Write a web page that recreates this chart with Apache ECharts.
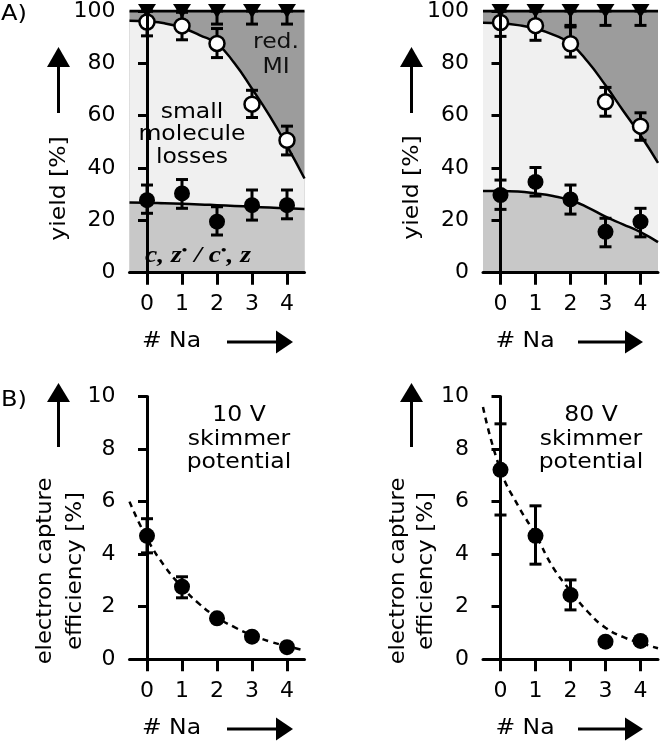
<!DOCTYPE html>
<html><head><meta charset="utf-8">
<script src="https://cdn.jsdelivr.net/npm/echarts@6/dist/echarts.min.js"></script>
<style>html,body{margin:0;padding:0;background:#fff}#c{width:661px;height:743px}</style>
</head><body><div id="c"></div>
<script>
// ---------- data ----------
const naCounts = [0, 1, 2, 3, 4];
const fitX = [-0.5, 0, 0.5, 1, 1.5, 2, 2.5, 3, 3.5, 4, 4.5];

// Panel A, left (10 V)
const aL_tri = [100, 100, 100, 100, 100];
const aL_triLow = [95, 95, 95, 95, 95];
const aL_open = [95.8, 94.3, 87.6, 64.4, 50.6];
const aL_openLow = [90.5, 89.0, 82.2, 59.3, 45.0];
const aL_openHigh = [100, 99.5, 93.3, 69.7, 56.0];
const aL_fill = [27.7, 30.3, 19.5, 25.8, 25.8];
const aL_fillLow = [22.7, 24.6, 14.4, 20.1, 20.6];
const aL_fillHigh = [33.5, 35.6, 25.2, 31.6, 31.6];
const aL_upperFit = [96.3, 96.0, 95.3, 93.6, 90.8, 87.5, 80.0, 70.3, 60.0, 48.5, 36.0];
const aL_lowerFit = [26.8, 26.7, 26.5, 26.3, 26.1, 25.8, 25.5, 25.2, 24.9, 24.6, 24.3];

// Panel A, right (80 V)
const aR_tri = [100, 100, 100, 100, 100];
const aR_triLow = [94.5, 94.5, 94.5, 94.5, 94.5];
const aR_open = [95.6, 94.4, 87.5, 65.3, 56.0];
const aR_openLow = [90.3, 88.8, 82.4, 59.8, 50.6];
const aR_openHigh = [100, 100, 93.9, 70.8, 61.1];
const aR_fill = [29.7, 34.7, 28.0, 15.6, 19.5];
const aR_fillLow = [24.2, 29.3, 22.4, 9.9, 13.7];
const aR_fillHigh = [35.4, 40.2, 33.5, 20.8, 24.6];
const aR_upperFit = [95.5, 95.3, 94.6, 93.3, 91.0, 87.5, 80.5, 71.6, 62.0, 52.5, 42.0];
const aR_lowerFit = [31.2, 31.2, 31.0, 30.3, 29.3, 27.7, 24.9, 21.4, 18.5, 15.5, 11.7];

// Panel B (electron capture efficiency)
const bL_eff = [4.70, 2.76, 1.56, 0.86, 0.46];
const bL_errLow = [4.05, 2.34, null, null, null];
const bL_errHigh = [5.35, 3.14, null, null, null];
const bL_fit = [6.0, 4.6, 3.55, 2.75, 2.1, 1.6, 1.22, 0.92, 0.68, 0.5, 0.34];

const bR_eff = [7.21, 4.70, 2.45, 0.67, 0.70];
const bR_errLow = [5.49, 3.62, 1.88, null, null];
const bR_errHigh = [8.96, 5.84, 3.02, null, null];
const bR_fit = [9.6, 7.2, 5.85, 4.75, 3.5, 2.6, 1.8, 1.2, 0.85, 0.62, 0.42];

const yTicksA = [0, 20, 40, 60, 80, 100];
const yTicksB = [0, 2, 4, 6, 8, 10];

// ---------- helpers ----------
const FONT = '"DejaVu Sans", sans-serif';
const zip = (xs, ys) => xs.map((x, i) => [x, ys[i]]);
const errData = (lo, hi) => naCounts.map((x, i) => [x, lo[i], hi[i]]).filter(d => d[1] != null);

function errRender(params, api) {
  const x = api.value(0), lo = api.value(1), hi = api.value(2);
  const a = api.coord([x, lo]), b = api.coord([x, hi]);
  const hw = 6;
  const st = { stroke: '#000', lineWidth: 3 };
  return { type: 'group', children: [
    { type: 'line', shape: { x1: a[0], y1: a[1], x2: b[0], y2: b[1] }, style: st },
    { type: 'line', shape: { x1: a[0] - hw, y1: a[1], x2: a[0] + hw, y2: a[1] }, style: st },
    { type: 'line', shape: { x1: b[0] - hw, y1: b[1], x2: b[0] + hw, y2: b[1] }, style: st }
  ]};
}

const grids = [
  { left: 129.5, top: 10.7, width: 175, height: 262 },
  { left: 483, top: 10.7, width: 175, height: 262 },
  { left: 129.5, top: 396.5, width: 175, height: 262.8 },
  { left: 483, top: 396.5, width: 175, height: 262.8 }
];

const xAxes = grids.map((g, i) => ({
  gridIndex: i, type: 'value', min: -0.5, max: 4.5, z: 10,
  axisLine: { lineStyle: { color: '#000', width: 3 } },
  axisTick: { customValues: naCounts, length: 12, lineStyle: { color: '#000', width: 3 } },
  axisLabel: { customValues: naCounts, color: '#000', fontSize: 22, fontFamily: FONT, margin: 21 },
  splitLine: { show: false }
}));
const yAxes = grids.map((g, i) => ({
  gridIndex: i, type: 'value', min: 0, max: i < 2 ? 100 : 10, interval: i < 2 ? 20 : 2, z: 10,
  axisLine: { show: true, lineStyle: { color: '#000', width: 3 } },
  axisTick: { show: true, length: 9, lineStyle: { color: '#000', width: 3 } },
  axisLabel: { color: '#000', fontSize: 22, fontFamily: FONT, margin: 14 },
  splitLine: { show: false }
}));

function panelA(idx, tri, triLow, open, openLow, openHigh, fill, fillLow, fillHigh, upFit, lowFit) {
  const ax = { xAxisIndex: idx, yAxisIndex: idx };
  return [
    Object.assign({ type: 'line', data: [[-0.5, 100], [4.5, 100]], symbol: 'none', z: 1,
      lineStyle: { color: '#000', width: 3 }, areaStyle: { color: '#9c9c9c', opacity: 1 } }, ax),
    Object.assign({ type: 'line', data: zip(fitX, upFit), smooth: true, symbol: 'none', z: 2,
      lineStyle: { color: '#000', width: 2.5 }, areaStyle: { color: '#f0f0f0', opacity: 1 } }, ax),
    Object.assign({ type: 'line', data: zip(fitX, lowFit), smooth: true, symbol: 'none', z: 3,
      lineStyle: { color: '#000', width: 2.5 }, areaStyle: { color: '#c8c8c8', opacity: 1 } }, ax),
    Object.assign({ type: 'custom', renderItem: errRender, data: errData(triLow, tri), encode: { x: 0, y: [1, 2] }, z: 5, clip: false }, ax),
    Object.assign({ type: 'custom', renderItem: errRender, data: errData(openLow, openHigh), encode: { x: 0, y: [1, 2] }, z: 5, clip: false }, ax),
    Object.assign({ type: 'custom', renderItem: errRender, data: errData(fillLow, fillHigh), encode: { x: 0, y: [1, 2] }, z: 5, clip: false }, ax),
    Object.assign({ type: 'scatter', data: zip(naCounts, tri), symbol: 'triangle', symbolRotate: 180, symbolSize: [18, 14], z: 6,
      itemStyle: { color: '#000', opacity: 1 } }, ax),
    Object.assign({ type: 'scatter', data: zip(naCounts, open), symbol: 'circle', symbolSize: 15, z: 6,
      itemStyle: { color: '#fff', borderColor: '#000', borderWidth: 2.5, opacity: 1 } }, ax),
    Object.assign({ type: 'scatter', data: zip(naCounts, fill), symbol: 'circle', symbolSize: 16, z: 6,
      itemStyle: { color: '#000', opacity: 1 } }, ax)
  ];
}
function panelB(idx, eff, lo, hi, fit) {
  const ax = { xAxisIndex: idx, yAxisIndex: idx };
  return [
    Object.assign({ type: 'line', data: zip(fitX, fit), smooth: true, symbol: 'none', z: 3,
      lineStyle: { color: '#000', width: 2.5, type: [6, 5] } }, ax),
    Object.assign({ type: 'custom', renderItem: errRender, data: errData(lo, hi), encode: { x: 0, y: [1, 2] }, z: 5, clip: false }, ax),
    Object.assign({ type: 'scatter', data: zip(naCounts, eff), symbol: 'circle', symbolSize: 16, z: 6,
      itemStyle: { color: '#000', opacity: 1 } }, ax)
  ];
}

const series = [].concat(
  panelA(0, aL_tri, aL_triLow, aL_open, aL_openLow, aL_openHigh, aL_fill, aL_fillLow, aL_fillHigh, aL_upperFit, aL_lowerFit),
  panelA(1, aR_tri, aR_triLow, aR_open, aR_openLow, aR_openHigh, aR_fill, aR_fillLow, aR_fillHigh, aR_upperFit, aR_lowerFit),
  panelB(2, bL_eff, bL_errLow, bL_errHigh, bL_fit),
  panelB(3, bR_eff, bR_errLow, bR_errHigh, bR_fit)
);

// ---------- annotations ----------
function txt(t, x, y, size, opts) {
  opts = opts || {};
  return { type: 'text', x: x, y: y, rotation: opts.rot || 0, scaleX: opts.sx || 1.12, z: 100,
    style: { text: t, font: (opts.weight || '') + ' ' + size + 'px ' + FONT, fill: opts.fill || '#000',
      align: 'center', verticalAlign: 'middle' } };
}
function upArrow(x, tip, base, bottom) {
  return [
    { type: 'polygon', z: 100, shape: { points: [[x, tip], [x - 11.5, base], [x + 11.5, base]] }, style: { fill: '#000' } },
    { type: 'line', z: 100, shape: { x1: x, y1: base - 1, x2: x, y2: bottom }, style: { stroke: '#000', lineWidth: 3 } }
  ];
}
function rightArrow(y, start, base, tip) {
  return [
    { type: 'polygon', z: 100, shape: { points: [[tip, y], [base, y - 11.5], [base, y + 11.5]] }, style: { fill: '#000' } },
    { type: 'line', z: 100, shape: { x1: start, y1: y, x2: base + 1, y2: y }, style: { stroke: '#000', lineWidth: 3 } }
  ];
}
const R = Math.PI / 2;
const graphics = [].concat(
  [txt('A)', 14, 15, 21, { sx: 1.15 }), txt('B)', 14, 400.5, 21, { sx: 1.15 })],
  // panel A
  [txt('yield [%]', 59.5, 188.5, 21, { rot: R, sx: 1.12 }), txt('yield [%]', 412.6, 187.5, 21, { rot: R, sx: 1.12 })],
  upArrow(58.5, 47, 67, 113), upArrow(411.5, 47, 67, 113),
  [txt('# Na', 171.5, 342, 21), txt('# Na', 525, 342, 21)],
  rightArrow(342, 227, 276, 293), rightArrow(342, 578, 625, 643),
  [txt('red.', 276, 42.6, 21, { fill: '#111' }), txt('MI', 276, 67.6, 21, { fill: '#111' }),
   txt('small', 192, 112.6, 21), txt('molecule', 192, 135, 21), txt('losses', 192, 158, 21)],
  [{ type: 'text', x: 198, y: 256, scaleX: 1.2, z: 100,
     style: { text: '{i|c, z}{s|•}{i| / c}{s|•}{i|, z}', align: 'center', verticalAlign: 'middle', fill: '#000',
       rich: { i: { font: 'italic bold 23px "Liberation Serif", serif', fill: '#000' },
               s: { font: 'bold 13px "Liberation Serif", serif', fill: '#000', verticalAlign: 'top' } } } }],
  // panel B
  [txt('electron capture', 45.6, 571, 21, { rot: R, sx: 1.08 }), txt('efficiency [%]', 75.6, 571, 21, { rot: R, sx: 1.1 }),
   txt('electron capture', 398.6, 571, 21, { rot: R, sx: 1.08 }), txt('efficiency [%]', 426.5, 571, 21, { rot: R, sx: 1.1 })],
  upArrow(58.5, 383, 402, 447), upArrow(411.5, 383, 402, 447),
  [txt('# Na', 171.5, 728.6, 21), txt('# Na', 525, 728.6, 21)],
  rightArrow(729, 227, 276, 293), rightArrow(729, 578, 625, 643),
  [txt('10 V', 239, 415.6, 21), txt('skimmer', 239, 439.6, 21), txt('potential', 239, 462.6, 21),
   txt('80 V', 591, 415.6, 21), txt('skimmer', 591, 439.6, 21), txt('potential', 591, 462.6, 21)]
);

const chart = echarts.init(document.getElementById('c'), null, { renderer: 'canvas' });
chart.setOption({
  animation: false,
  backgroundColor: '#fff',
  grid: grids,
  xAxis: xAxes,
  yAxis: yAxes,
  series: series,
  graphic: graphics
});
</script>
</body></html>
